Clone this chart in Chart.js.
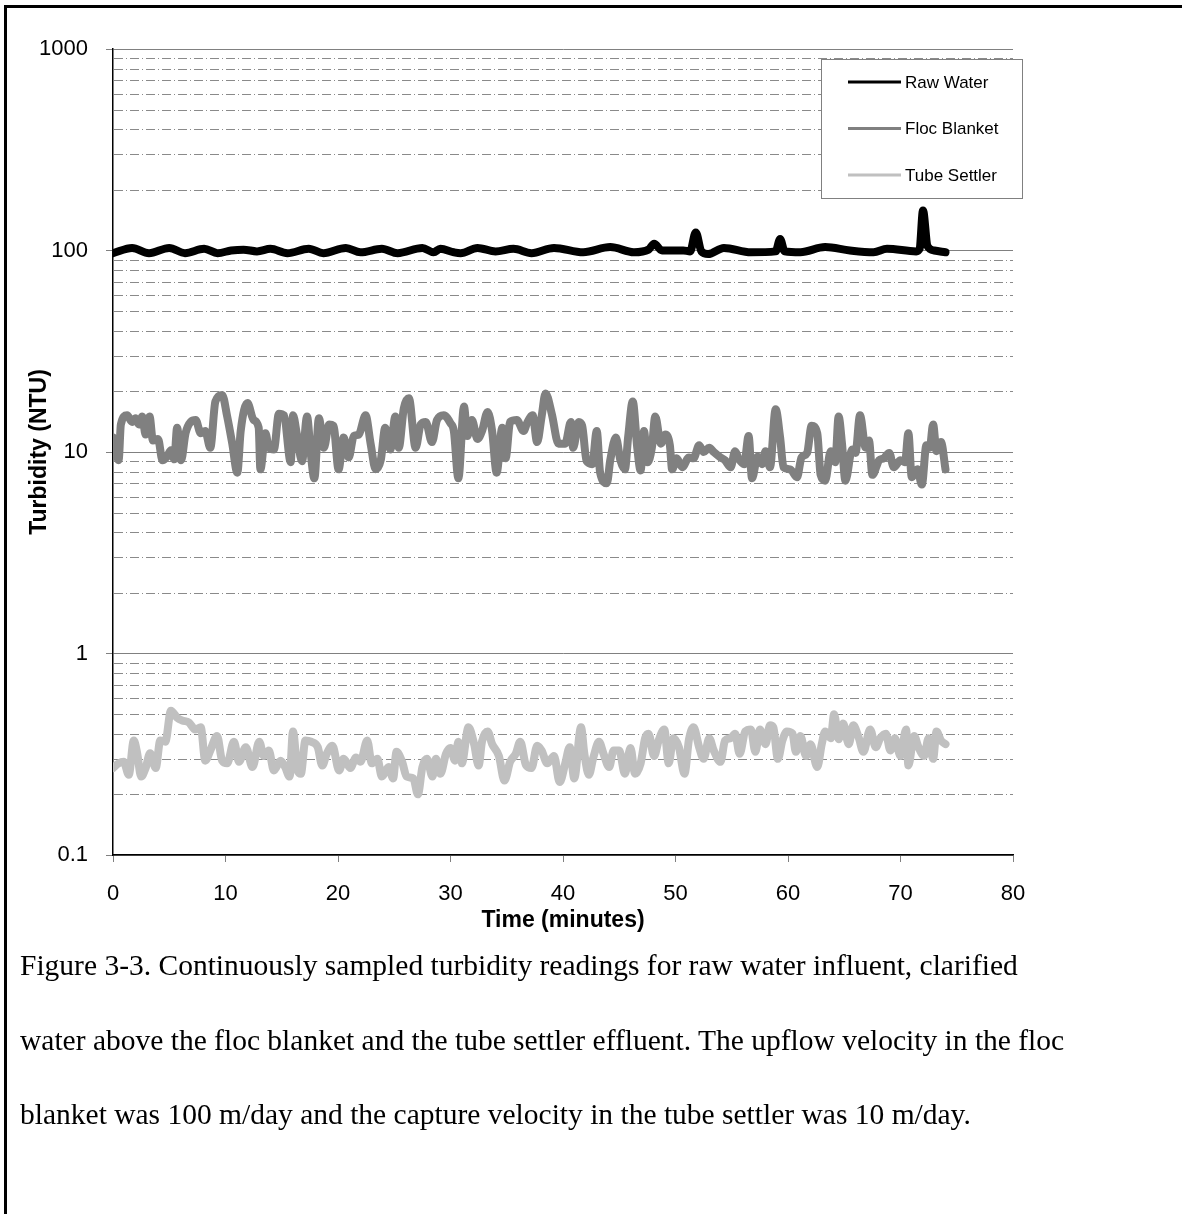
<!DOCTYPE html>
<html lang="en">

<head>
    <meta charset="UTF-8">
    <title>Figure 3-3 Turbidity</title>
    <style>
        html, body {
            margin: 0;
            padding: 0;
            background: #fff;
            overflow: hidden;
        }

        .page {
            position: relative;
            width: 1182px;
            height: 1214px;
        }

        .frame {
            position: absolute;
            left: 4px;
            top: 5px;
            width: 2000px;
            height: 2000px;
            border-left: 3px solid #000;
            border-top: 3px solid #000;
        }

        #chart {
            position: absolute;
            left: 0;
            top: 0;
        }

        .caption {
            position: absolute;
            left: 20px;
            top: 928px;
            font-family: "Liberation Serif", "Times New Roman", serif;
            font-size: 29.5px;
            line-height: 74.5px;
            color: #000;
            white-space: nowrap;
        }
    </style>
</head>

<body>
    <div class="page">
        <div class="frame"></div>
        <canvas id="chart" width="1182" height="940"></canvas>
        <div class="caption">
            <div>Figure 3-3. Continuously sampled turbidity readings for raw water influent, clarified</div>
            <div>water above the floc blanket and the tube settler effluent. The upflow velocity in the floc</div>
            <div>blanket was 100 m/day and the capture velocity in the tube settler was 10 m/day.</div>
        </div>
    </div>

    <script src="https://cdn.jsdelivr.net/npm/chart.js"></script>
    <script>
        // values (time in minutes, turbidity in NTU)
        const seriesNames = ['Raw Water', 'Floc Blanket', 'Tube Settler'];
        const seriesColors = ['#000000', '#808080', '#c0c0c0'];

        const rawTime = [0, 1.7, 3.2, 5.0, 6.4, 8.1, 9.3, 10.5, 11.6, 12.8, 14.0, 15.5, 17.4, 18.7, 20.7, 22.0,
            23.9, 25.3, 27.5, 28.5, 29.1, 30.3, 30.9, 32.4, 34.0, 35.6, 37.2, 39.2, 41.8, 44.2, 46.3, 47.6,
            48.1, 48.8, 50.7, 51.3, 51.8, 52.3, 52.9, 54.3, 56.7, 58.9, 59.3, 59.7, 61.1, 63.3, 65.5, 67.6,
            68.8, 71.4, 71.7, 72.0, 72.4, 73.0, 74.0];
        const rawValue = [97, 103, 97, 103, 97, 102, 97, 100, 101, 99, 102, 97, 102, 97, 103, 98,
            102, 97, 103, 98, 102, 98, 97, 103, 99, 102, 97, 103, 98, 104, 98, 101,
            108, 100, 100, 99, 123, 99, 96, 103, 98, 99, 114, 99, 98, 104, 100, 98,
            102, 99, 102, 158, 105, 100, 98];

        const flocTime = [0, 0.5, 0.7, 1.25, 1.7, 2.0, 2.3, 2.6, 2.9, 3.25, 3.55, 4.0, 4.4, 4.8, 5.15, 5.45,
            5.7, 6.05, 6.45, 6.9, 7.35, 7.8, 8.2, 8.65, 9.1, 9.7, 10.15, 10.6, 11.05, 11.35, 11.95, 12.5,
            12.95, 13.1, 13.55, 13.85, 14.3, 14.75, 15.2, 15.8, 16.0, 16.35, 16.8, 17.25, 17.55, 17.9, 18.3, 18.75,
            19.2, 19.6, 20.05, 20.5, 20.95, 21.4, 21.85, 22.45, 22.9, 23.35, 23.8, 24.2, 24.65, 25.1, 25.4, 25.85,
            26.3, 26.9, 27.35, 27.8, 28.35, 28.8, 29.4, 30.0, 30.3, 30.7, 31.2, 31.5, 31.9, 32.4, 32.8, 33.3,
            33.7, 34.1, 34.6, 34.9, 35.3, 35.9, 36.5, 36.8, 37.3, 37.7, 38.1, 38.45, 39.0, 39.6, 40.2, 40.7,
            40.9, 41.4, 41.7, 42.1, 42.6, 43.0, 43.3, 43.9, 44.2, 44.7, 45.1, 45.5, 45.8, 46.2, 46.6, 46.9,
            47.2, 47.5, 47.9, 48.2, 48.7, 49.1, 49.5, 49.7, 50.1, 50.6, 51.2, 51.6, 52.1, 52.5, 53.0, 53.4,
            54.0, 54.4, 54.9, 55.3, 55.6, 56.1, 56.5, 56.8, 57.3, 57.7, 58.0, 58.4, 58.9, 59.3, 59.6, 60.2,
            60.8, 61.2, 61.7, 62.1, 62.6, 62.9, 63.3, 63.8, 64.2, 64.5, 64.8, 65.1, 65.7, 66.0, 66.4, 66.9,
            67.2, 67.5, 68.1, 68.5, 69.0, 69.4, 70.0, 70.4, 70.7, 71.0, 71.5, 71.9, 72.3, 72.6, 72.9, 73.2,
            73.6, 74.0];
        const flocValue = [11.8, 9.1, 13.7, 15.2, 14.1, 14.7, 13.7, 15.0, 12.2, 15.0, 11.4, 11.6, 9.1, 9.5, 10.2, 9.2,
            13.2, 9.1, 12.4, 14.1, 14.4, 12.4, 12.7, 10.5, 17.8, 19.2, 15.0, 11.0, 7.9, 12.7, 17.5, 14.4,
            13.2, 8.2, 12.4, 10.5, 10.3, 15.5, 15.2, 8.9, 15.2, 12.2, 9.0, 15.0, 10.2, 7.4, 14.7, 10.5,
            13.7, 13.5, 8.2, 11.8, 9.4, 12.0, 12.2, 15.2, 11.0, 8.2, 9.1, 13.2, 10.3, 15.0, 10.5, 16.5,
            18.5, 10.5, 13.7, 14.1, 11.2, 14.4, 15.2, 13.9, 12.7, 7.4, 16.8, 12.0, 14.4, 11.6, 12.7, 15.8,
            12.7, 7.9, 13.2, 9.3, 14.1, 14.4, 12.7, 13.9, 15.2, 11.2, 15.0, 19.5, 15.5, 11.0, 11.0, 14.1,
            10.5, 14.1, 13.5, 9.0, 8.7, 12.7, 7.9, 7.0, 9.1, 11.8, 9.1, 8.2, 12.0, 17.8, 10.5, 8.1,
            12.7, 8.9, 10.5, 15.0, 11.0, 12.2, 10.8, 8.2, 9.3, 8.4, 9.4, 9.3, 10.8, 10.0, 10.5, 10.0,
            9.4, 9.1, 8.4, 10.1, 9.3, 8.7, 12.0, 7.4, 9.5, 8.7, 10.1, 8.4, 16.3, 11.8, 8.4, 8.2,
            7.5, 9.4, 9.9, 13.5, 12.4, 7.7, 7.2, 10.1, 8.9, 15.0, 11.0, 7.2, 10.3, 9.9, 15.2, 10.5,
            11.4, 7.7, 9.1, 9.3, 9.9, 8.4, 9.1, 8.9, 12.4, 7.5, 8.2, 6.9, 10.8, 10.5, 13.7, 10.1,
            11.2, 8.2];

        const tubeTime = [0, 0.5, 0.95, 1.4, 1.85, 2.15, 2.5, 2.9, 3.3, 3.8, 4.2, 4.65, 5.15, 5.7, 6.15, 6.75,
            7.3, 7.8, 8.2, 8.65, 9.25, 9.7, 10.15, 10.75, 11.2, 11.8, 12.4, 13.0, 13.4, 13.85, 14.3, 14.9,
            15.3, 15.7, 16.0, 16.4, 16.7, 17.1, 17.6, 18.2, 18.6, 19.0, 19.5, 20.1, 20.5, 21.1, 21.6, 22.0,
            22.6, 23.0, 23.5, 23.9, 24.5, 24.9, 25.2, 25.7, 26.1, 26.7, 27.1, 27.5, 27.9, 28.4, 28.7, 29.1,
            29.6, 30.0, 30.4, 30.7, 31.0, 31.6, 32.1, 32.5, 32.8, 33.3, 33.7, 34.3, 34.8, 35.3, 35.8, 36.2,
            36.7, 37.2, 37.7, 38.1, 38.6, 39.2, 39.7, 40.2, 40.6, 41.0, 41.6, 41.9, 42.3, 42.7, 43.2, 43.6,
            44.1, 44.5, 45.0, 45.5, 46.0, 46.4, 46.9, 47.3, 47.6, 48.1, 48.5, 49.0, 49.4, 49.8, 50.3, 50.8,
            51.2, 51.6, 52.1, 52.5, 53.0, 53.4, 54.0, 54.4, 54.9, 55.3, 55.7, 56.2, 56.7, 57.1, 57.5, 58.0,
            58.4, 58.7, 59.1, 59.5, 59.9, 60.4, 60.7, 61.1, 61.6, 62.0, 62.6, 63.0, 63.3, 63.8, 64.1, 64.5,
            64.9, 65.4, 65.8, 66.3, 66.7, 67.3, 67.8, 68.2, 68.7, 69.1, 69.5, 70.0, 70.5, 70.7, 71.2, 71.6,
            72.1, 72.5, 72.9, 73.2, 73.6, 74.0];
        const tubeValue = [0.27, 0.285, 0.29, 0.25, 0.37, 0.32, 0.245, 0.27, 0.32, 0.27, 0.37, 0.365, 0.52, 0.48, 0.465, 0.455,
            0.42, 0.43, 0.294, 0.33, 0.39, 0.294, 0.285, 0.365, 0.29, 0.343, 0.273, 0.365, 0.31, 0.33, 0.263, 0.294,
            0.273, 0.245, 0.41, 0.263, 0.253, 0.37, 0.365, 0.343, 0.278, 0.318, 0.348, 0.263, 0.30, 0.27, 0.305, 0.29,
            0.37, 0.285, 0.30, 0.245, 0.273, 0.24, 0.325, 0.29, 0.245, 0.24, 0.20, 0.273, 0.30, 0.245, 0.30, 0.253,
            0.318, 0.34, 0.294, 0.365, 0.285, 0.43, 0.355, 0.278, 0.365, 0.41, 0.355, 0.31, 0.234, 0.29, 0.318, 0.365,
            0.28, 0.27, 0.348, 0.33, 0.285, 0.31, 0.23, 0.285, 0.343, 0.24, 0.43, 0.318, 0.25, 0.305, 0.365, 0.318,
            0.273, 0.33, 0.33, 0.253, 0.34, 0.253, 0.285, 0.38, 0.40, 0.31, 0.37, 0.42, 0.285, 0.38, 0.343, 0.253,
            0.375, 0.43, 0.343, 0.30, 0.38, 0.33, 0.29, 0.37, 0.38, 0.40, 0.318, 0.41, 0.42, 0.325, 0.42, 0.355,
            0.44, 0.43, 0.30, 0.37, 0.41, 0.40, 0.325, 0.39, 0.31, 0.355, 0.273, 0.355, 0.41, 0.38, 0.50, 0.375,
            0.45, 0.355, 0.44, 0.38, 0.325, 0.42, 0.343, 0.38, 0.40, 0.33, 0.38, 0.31, 0.42, 0.278, 0.39, 0.343,
            0.31, 0.38, 0.30, 0.41, 0.37, 0.355];

        const xTicks = [0, 10, 20, 30, 40, 50, 60, 70, 80];
        const yTicks = [0.1, 1, 10, 100, 1000];

        const FONT = '"Liberation Sans", Arial, sans-serif';

        function toPoints(times, values) {
            return times.map((t, i) => ({ x: t, y: values[i] }));
        }

        function makeSet(i, times, values) {
            return {
                label: seriesNames[i],
                data: toPoints(times, values),
                borderColor: seriesColors[i],
                backgroundColor: seriesColors[i],
                borderWidth: 8,
                borderCapStyle: 'round',
                borderJoinStyle: 'round',
                cubicInterpolationMode: 'monotone',
                pointRadius: 0,
                fill: false
            };
        }

        // dash-dot minor grid lines between the decades
        const minorGrid = {
            id: 'minorGrid',
            beforeDatasetsDraw(chart) {
                const ctx = chart.ctx;
                const y = chart.scales.y;
                const area = chart.chartArea;
                ctx.save();
                ctx.strokeStyle = '#8a8a8a';
                ctx.lineWidth = 1;
                ctx.setLineDash([9, 3, 1, 3]);
                for (let d = 0; d < yTicks.length - 1; d++) {
                    for (let m = 2; m <= 9; m++) {
                        const py = Math.round(y.getPixelForValue(yTicks[d] * m)) + 0.5;
                        ctx.beginPath();
                        ctx.moveTo(area.left + 1, py);
                        ctx.lineTo(area.right, py);
                        ctx.stroke();
                    }
                }
                ctx.restore();
            }
        };

        // boxed legend in the top right corner
        const boxLegend = {
            id: 'boxLegend',
            afterDraw(chart) {
                const ctx = chart.ctx;
                const left = 821, top = 59, width = 201, height = 139;
                ctx.save();
                ctx.fillStyle = '#fff';
                ctx.fillRect(left, top, width, height);
                ctx.strokeStyle = '#808080';
                ctx.lineWidth = 1;
                ctx.strokeRect(left + 0.5, top + 0.5, width, height);
                ctx.font = '17px ' + FONT;
                ctx.textBaseline = 'middle';
                ctx.textAlign = 'left';
                chart.data.datasets.forEach((ds, i) => {
                    const rowY = 82 + i * 46.5;
                    ctx.strokeStyle = ds.borderColor;
                    ctx.lineWidth = 3;
                    ctx.beginPath();
                    ctx.moveTo(848, rowY);
                    ctx.lineTo(901, rowY);
                    ctx.stroke();
                    ctx.fillStyle = '#000';
                    ctx.fillText(ds.label, 905, rowY + 1);
                });
                ctx.restore();
            }
        };

        new Chart(document.getElementById('chart'), {
            type: 'line',
            data: {
                datasets: [
                    makeSet(0, rawTime, rawValue),
                    makeSet(1, flocTime, flocValue),
                    makeSet(2, tubeTime, tubeValue)
                ]
            },
            options: {
                responsive: false,
                animation: false,
                events: [],
                layout: {
                    padding: { top: 49, right: 169, bottom: 0, left: 0 }
                },
                plugins: {
                    legend: { display: false },
                    tooltip: { enabled: false }
                },
                scales: {
                    x: {
                        type: 'linear',
                        min: 0,
                        max: 80,
                        afterBuildTicks: (s) => { s.ticks = xTicks.map(v => ({ value: v })); },
                        afterFit: (s) => { s.height = 85; },
                        ticks: {
                            color: '#000',
                            padding: 19,
                            maxRotation: 0,
                            font: { family: FONT, size: 22 }
                        },
                        grid: {
                            drawOnChartArea: false,
                            drawTicks: true,
                            tickLength: 7,
                            tickColor: '#808080'
                        },
                        border: { color: '#000', width: 1.5 },
                        title: {
                            display: true,
                            text: 'Time (minutes)',
                            color: '#000',
                            padding: { top: 0, bottom: 6 },
                            font: { family: FONT, size: 23, weight: 'bold' }
                        }
                    },
                    y: {
                        type: 'logarithmic',
                        min: 0.1,
                        max: 1000,
                        afterBuildTicks: (s) => { s.ticks = yTicks.map(v => ({ value: v })); },
                        afterFit: (s) => { s.width = 113; },
                        ticks: {
                            color: '#000',
                            padding: 18,
                            font: { family: FONT, size: 22 },
                            callback: (v) => String(v)
                        },
                        grid: {
                            color: '#808080',
                            lineWidth: 1,
                            tickLength: 7,
                            tickColor: '#808080'
                        },
                        border: { color: '#000', width: 1.5 },
                        title: {
                            display: true,
                            text: 'Turbidity (NTU)',
                            color: '#000',
                            padding: { top: 26, bottom: 0 },
                            font: { family: FONT, size: 23, weight: 'bold' }
                        }
                    }
                }
            },
            plugins: [minorGrid, boxLegend]
        });
    </script>
</body>

</html>
